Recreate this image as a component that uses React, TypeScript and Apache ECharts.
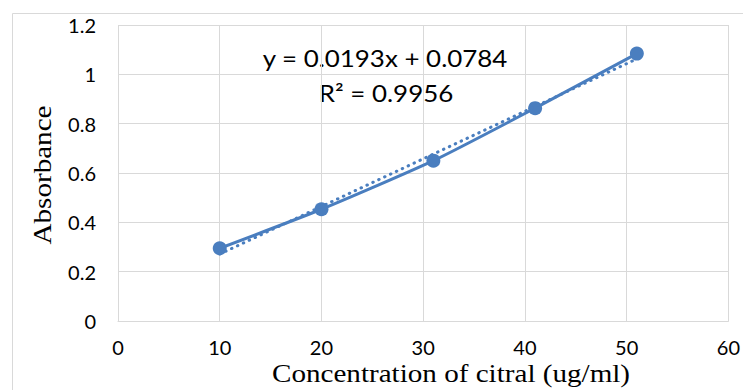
import React, { useEffect, useRef } from "react";
import * as echarts from "echarts";

const concentrations = [10, 20, 31, 41, 51];
const absorbances = [0.295, 0.453, 0.65, 0.863, 1.084];
const trendSlope = 0.0193;
const trendIntercept = 0.0784;
const rSquared = "0.9956";
const xTicks = [0, 10, 20, 30, 40, 50, 60];
const yTicks = [0, 0.2, 0.4, 0.6, 0.8, 1, 1.2];

const BLUE = "#4A7EBF";
const GRID = "#d9d9d9";

export default function App() {
  const ref = useRef<HTMLDivElement>(null);
  useEffect(() => {
    document.body.style.margin = "0";
    const chart = echarts.init(ref.current!, null, { renderer: "svg" });
    const pts = concentrations.map((x, i) => [x, absorbances[i]]);
    const tx0 = concentrations[0];
    const tx1 = concentrations[concentrations.length - 1];
    const trend = [
      [tx0, trendSlope * tx0 + trendIntercept],
      [tx1, trendSlope * tx1 + trendIntercept],
    ];
    chart.setOption({
      animation: false,
      grid: { left: 118, right: 14.5, top: 25, bottom: 69, containLabel: false },
      xAxis: {
        type: "value",
        min: xTicks[0],
        max: xTicks[xTicks.length - 1],
        interval: 10,
        axisLine: { show: true, lineStyle: { color: GRID, width: 1 } },
        axisTick: { show: false },
        splitLine: { show: true, lineStyle: { color: GRID, width: 1 } },
        axisLabel: {
          margin: 16,
          fontFamily: "Lato",
          fontSize: 20,
          color: "#000",
        },
      },
      yAxis: {
        type: "value",
        min: yTicks[0],
        max: yTicks[yTicks.length - 1],
        interval: 0.2,
        axisLine: { show: false },
        axisTick: { show: false },
        splitLine: { show: true, lineStyle: { color: GRID, width: 1 } },
        axisLabel: {
          margin: 22,
          fontFamily: "Lato",
          fontSize: 20,
          color: "#000",
          formatter: (v: number) => String(+v.toFixed(1)),
        },
      },
      graphic: [
        {
          type: "rect",
          left: 10,
          top: 11,
          shape: { width: 800, height: 420 },
          style: { fill: "none", stroke: GRID, lineWidth: 1 },
          silent: true,
        },
        {
          type: "text",
          x: 385,
          y: 57,
          scaleX: 1.08,
          style: {
            text: `y = ${trendSlope}x + ${trendIntercept}`,
            fontFamily: "Lato",
            fontSize: 24,
            fill: "#000",
            align: "center",
            verticalAlign: "middle",
          },
        },
        {
          type: "text",
          x: 386,
          y: 92,
          scaleX: 1.08,
          style: {
            text: `R² = ${rSquared}`,
            fontFamily: "Lato",
            fontSize: 24,
            fill: "#000",
            align: "center",
            verticalAlign: "middle",
          },
        },
        {
          type: "text",
          x: 451,
          y: 373,
          scaleX: 1.12,
          style: {
            text: "Concentration of citral (ug/ml)",
            fontFamily: "Liberation Serif",
            fontSize: 26,
            fill: "#000",
            align: "center",
            verticalAlign: "middle",
          },
        },
        {
          type: "text",
          x: 42,
          y: 175,
          rotation: Math.PI / 2,
          scaleX: 1.12,
          style: {
            text: "Absorbance",
            fontFamily: "Liberation Serif",
            fontSize: 26,
            fill: "#000",
            align: "center",
            verticalAlign: "middle",
          },
        },
      ],
      series: [
        {
          type: "line",
          data: trend,
          symbol: "none",
          lineStyle: { color: BLUE, width: 3, type: [0.5, 6], cap: "round" },
          z: 3,
        },
        {
          type: "line",
          data: pts,
          smooth: 0.2,
          symbol: "circle",
          symbolSize: 14,
          itemStyle: { color: BLUE },
          lineStyle: { color: BLUE, width: 3 },
          z: 2,
        },
      ],
    });
    return () => chart.dispose();
  }, []);
  return <div ref={ref} style={{ width: 743, height: 390 }} />;
}
